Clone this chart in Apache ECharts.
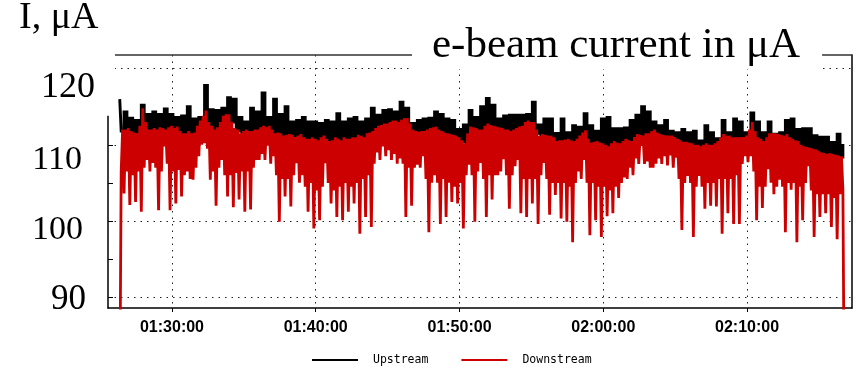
<!DOCTYPE html>
<html>
<head>
<meta charset="utf-8">
<script src="https://cdn.jsdelivr.net/npm/echarts@6/dist/echarts.min.js"></script>
<style>
html,body{margin:0;padding:0;background:#fff;}
#chart{width:861px;height:368px;}
</style>
</head>
<body>
<div id="chart"></div>
<script>
// Sampling: first sample time (seconds after midnight) and sample steps (s)
const startSec = 5182;
const upstreamStepSec = 12;
const downstreamStepSec = 6;

// Time axis range and tick labels (seconds after midnight)
const xMin = 5133;
const xMax = 8238;
const xTicks = [5400, 6000, 6600, 7200, 7800];

// Y axis
const yMin = 88.55;
const yMax = 121.8;
const yLabelValues = [90, 100, 110, 120];
const yTickValues = [90, 95, 100, 105, 110, 115, 120];

const seriesNames = ['Upstream', 'Downstream'];

// Upstream current, µA, one sample every 12 s
const upstream = [
116,111.8,114.3,111.5,113.5,111.6,113.2,111.4,115.2,112,
114,111.6,114.3,111.8,114,111.5,114.7,111.9,114,111.6,
113.6,111.4,113.8,111.6,115,111.5,113.4,111.7,113.6,112.5,
117.8,112.4,114.6,111.8,114.5,112,114.8,112.8,116.2,113,
116,111.8,113.6,111.5,113,111.6,114.8,111.7,114.3,
111.5,116.8,111.2,113.6,111.4,116,111,114,110.8,115,
110.9,113,110.8,113.2,110.6,113.6,110.7,113,110.5,113,
110.6,112.8,110.5,113.2,110.4,113,110.6,114.1,110.5,113,
110.6,113.4,110.5,113.6,110.7,113,110.8,113.4,111,114.8,
111.2,113.9,111.8,114.5,112,114.6,112.2,114.3,112.3,115.6,
111.5,
114.8,111.5,112.8,111,113.2,111,113.4,111.2,113.5,111,
114.3,111.2,114,111,113.4,110.8,113.2,110.6,112,110.4,
112.6,110.2,114.5,111,113.6,111,115,111.5,116.1,111.5,
115.2,111.3,113.4,111,113.8,111,113.9,111.2,113.9,111,
113.9,111.5,114,111.8,115.6,111.5,112.6,110.8,113.4,110.6,
113.4,110.5,
111.5,109.8,113.4,109.9,111.6,109.8,112.5,110,112.3,110.2,
114.1,110,112.5,109.8,111.8,109.7,113.4,109.6,113.6,109.5,
112.1,109.8,112.1,110,112.2,110.2,113.2,110.4,113.9,110.6,
115,110.8,114.3,110.8,113,110.6,112.5,110.5,113.2,110.4,
111.8,110.2,111.6,110,112,109.8,111.6,109.6,111.8,109.4,
110.5,
109.5,112.5,109.4,111.6,109.5,110.8,109.6,113.2,109.8,111.6,
109.8,113.4,109.9,113,110,111.6,110.2,114.2,110.4,113,
110.2,111.6,110,113,110.2,111.4,110,111.6,109.9,113.2,
110,113.4,109.8,112,109.6,112.1,109.4,112.1,109.2,111.2,
109,111,108.8,111,108.6,110.3,108.5,111.4,108.4,109.9
];

// Downstream current, µA, one sample every 6 s
const downstream = [
75,106.5,112,103.6, 112,106.5,112.2,102.1, 111.8,106,111.6,102.5, 111.5,106.5,112.5,101.2,
114.8,107,113,108, 112,106.5,112,107.6, 112.2,107,112,101.4, 112.3,106.5,112.2,109.8,
112,107.5,112.3,101.4, 112.5,106.5,112.2,102.3, 112.4,106.7,111.8,103.2, 111.5,106,111.5,106.5,
111.8,105.5,111.5,105.4, 111.6,107,112.5,108.5, 113.2,110,113.8,110.2, 114.5,109.5,113,105.4,
112.5,106.5,112,102, 112.3,107,113,108, 113.8,106,114,103.2, 114,106,113,101.8,
112.2,106.3,112,102.8, 111.5,106.5,111.8,101.2, 112,106.5,111.8,101.5, 111.8,107,112,108,
112,108,112.3,108.8, 112.5,108,112.3,109.9, 112.5,107.5,112,108.5, 111.5,106,111.6,99.9,
111.5,105.5,111.2,103.2, 111.3,105.5,111.4,101.9, 111.3,106,111,107.6, 111.2,105,111.4,106,
111,104.5,110.8,101.2, 110.8,105,111,99, 110.8,104,110.6,100.1, 111,104.5,111.2,107.6,
110.8,105,110.5,102.3, 110.6,104,111,100.5, 110.8,104.5,110.6,100.1, 111,105,110.8,101.2,
110.8,104.5,111,102.3, 111,105,111.3,98.3, 111.2,105.5,111,100.5, 111.5,106,111.6,99.2,
111.8,107.5,112.2,109, 112.5,108,112.6,109.8, 112.8,108.5,112.8,109.3, 113,108,113.2,108.8,
113.2,107.5,113,108.2, 113.3,107.5,113.5,100.5,
113.5,107,112.8,102, 112,107,111.8,107.4, 111.7,107,111.8,108.5, 111.8,105.5,112,98.5,
112.2,105,112.3,106, 112.4,105,112,99.6, 111.8,105.5,111.6,100.5, 111.5,105,111.4,102.5,
111.3,104.5,111.2,102.3, 111,105,110.6,99, 110.2,106,111.5,107.4, 112.4,106,112.3,99.9,
112.2,106.5,112,107.6, 112,105.5,112.5,100.5, 112.8,106,112.6,102.8, 112.5,106,112.4,106,
112.3,106.5,112.2,108.1, 112,106,112,101.6, 111.8,106,112,107.2, 112.2,108,112.4,101,
112.5,105.5,113,100.5, 113.2,105.5,113,102.3, 113,105.5,112,99.6, 111.2,106,111.4,107.6,
111.3,105.5,111.2,100.8, 111.2,105,111,103.4,
110.5,105,110.6,100.3, 110.6,105,110.7,99.9, 110.8,104.5,110.6,97.2, 110.5,105,110.8,106.5,
111.2,105.5,111.6,108, 111.9,105,110.8,98.1, 110.3,105,110.4,100.1, 110.5,104.5,110.3,97.9,
110.2,104.5,110,100.6, 109.8,104,110.2,101, 110.5,104.5,110.3,103, 110.2,105,110.5,105.7,
110.8,105.5,110.6,107, 110.5,106,111,108.2, 111.4,107.5,111.3,109.9, 111.2,107.5,111.5,107.8,
111.5,107,111.8,107, 112,107.5,111.6,108.2, 111.4,107.5,111.3,108.5, 111.2,107.3,111.2,108.6,
111.2,107,111,108.3, 110.8,105.5,110.6,98.8, 110.4,105,110.4,105.9, 110.3,105,110.2,97.9,
110,104.5,110,105.9,
109.8,104.5,110,101.6, 110.2,105,110,102, 110,105,110.2,101.9, 110.5,105.5,111,98.3,
111.4,105.5,111.2,101, 111.2,105.5,111,99.6, 111,106,111,99.6, 111,107.5,111,108.5,
111.2,107.7,112,108.5, 113,106.5,111.8,100.1, 111,104.5,110.8,101.7, 110.5,104.5,111,106.8,
111.5,105,111.5,103.5, 111.5,104.5,111.4,105.4, 111.3,104.5,111.2,98.5, 111.4,105,111,104.1,
110.8,105,110.6,97.2, 110.5,104.5,110,100.1, 109.8,105,109.7,107.2, 109.6,104,109.5,97.9,
109.4,103.5,109.2,100.5, 109,103.5,108.9,101, 108.8,103.5,108.9,99.2, 108.8,103,108.7,97.6,
108.6,103.5,108.5,104.1,
75
];

function toPairs(arr, step) {
  return arr.map((v, i) => [startSec + i * step, v]);
}
function pad(n) { return (n < 10 ? '0' : '') + n; }
function hms(s) {
  const h = Math.floor(s / 3600), m = Math.floor((s % 3600) / 60), ss = Math.round(s % 60);
  return pad(h) + ':' + pad(m) + ':' + pad(ss);
}

const serif = 'Liberation Serif, Times New Roman, serif';
const dotted = { color: '#222', width: 1, type: [1.5, 5] };

const chart = echarts.init(document.getElementById('chart'), null, { renderer: 'canvas' });
chart.setOption({
  animation: false,
  backgroundColor: '#fff',
  title: [
    {
      text: 'e-beam current in μA',
      left: 412, top: 22,
      padding: [2, 22, 2, 20],
      backgroundColor: '#fff',
      textStyle: { fontFamily: serif, fontSize: 43, fontWeight: 'normal', color: '#000' }
    },
    {
      text: 'I, μA',
      left: 19, top: -1,
      padding: 0,
      textStyle: { fontFamily: serif, fontSize: 38, fontWeight: 'normal', color: '#000' }
    }
  ],
  legend: {
    data: seriesNames,
    left: 312, top: 354,
    padding: 0,
    icon: 'rect',
    itemWidth: 46, itemHeight: 2,
    itemGap: 33,
    textStyle: { fontFamily: 'DejaVu Sans Mono, monospace', fontSize: 11.5, color: '#000', padding: [0, 0, 0, 10] }
  },
  grid: { left: 108, right: 9, top: 55, bottom: 60, containLabel: false },
  xAxis: [
    {
      type: 'value', position: 'bottom', min: xMin, max: xMax,
      axisLine: { lineStyle: { color: '#000', width: 1.5 } },
      axisTick: { customValues: xTicks, length: 4, lineStyle: { color: '#000' } },
      axisLabel: {
        customValues: xTicks, formatter: v => hms(v), margin: 12,
        fontFamily: 'Liberation Sans, Arial, sans-serif', fontSize: 16, fontWeight: 'bold', color: '#000'
      },
      splitLine: { show: true, lineStyle: dotted }
    },
    {
      type: 'value', position: 'top', min: 0, max: 1,
      axisLine: { show: true, lineStyle: { color: '#333', width: 1.5 } },
      axisTick: { show: false }, axisLabel: { show: false }, splitLine: { show: false }
    }
  ],
  yAxis: [
    {
      type: 'value', position: 'left', min: yMin, max: yMax,
      axisLine: { show: true, lineStyle: { color: '#000', width: 1.5 } },
      axisTick: { show: true, customValues: yTickValues, inside: true, length: 5, lineStyle: { color: '#000' } },
      axisLabel: {
        customValues: yLabelValues, margin: -7,
        formatter: v => '{l' + v + '|' + v + '}',
        rich: {
          l120: { fontFamily: serif, fontSize: 36, color: '#000', backgroundColor: '#fff', padding: [48, 20, 10, 0] },
          l110: { fontFamily: serif, fontSize: 34, color: '#000', padding: [31, 33, 0, 0] },
          l100: { fontFamily: serif, fontSize: 34, color: '#000', padding: [18, 32, 0, 0] },
          l90: { fontFamily: serif, fontSize: 35, color: '#000', padding: [6, 29, 0, 0] }
        }
      },
      splitLine: { show: false }
    },
    {
      type: 'value', position: 'left', min: yMin, max: yMax,
      axisLine: { show: false },
      axisTick: { show: false, customValues: yLabelValues },
      axisLabel: { show: false },
      splitLine: { show: true, lineStyle: dotted }
    },
    {
      type: 'value', position: 'right', min: yMin, max: yMax,
      axisLine: { show: true, lineStyle: { color: '#000', width: 1.5 } },
      axisTick: { show: false }, axisLabel: { show: false }, splitLine: { show: false }
    }
  ],
  series: [
    {
      name: seriesNames[0], type: 'line', data: toPairs(upstream, upstreamStepSec),
      xAxisIndex: 0, yAxisIndex: 0, step: 'middle',
      symbol: 'none', showSymbol: false, sampling: null,
      color: '#000', lineStyle: { color: '#000', width: 2.9, join: 'miter' }
    },
    {
      name: seriesNames[1], type: 'line', data: toPairs(downstream, downstreamStepSec),
      xAxisIndex: 0, yAxisIndex: 0,
      symbol: 'none', showSymbol: false, sampling: null,
      color: '#cc0000', lineStyle: { color: '#cc0000', width: 2.8, join: 'bevel' }
    }
  ]
});
</script>
</body>
</html>
